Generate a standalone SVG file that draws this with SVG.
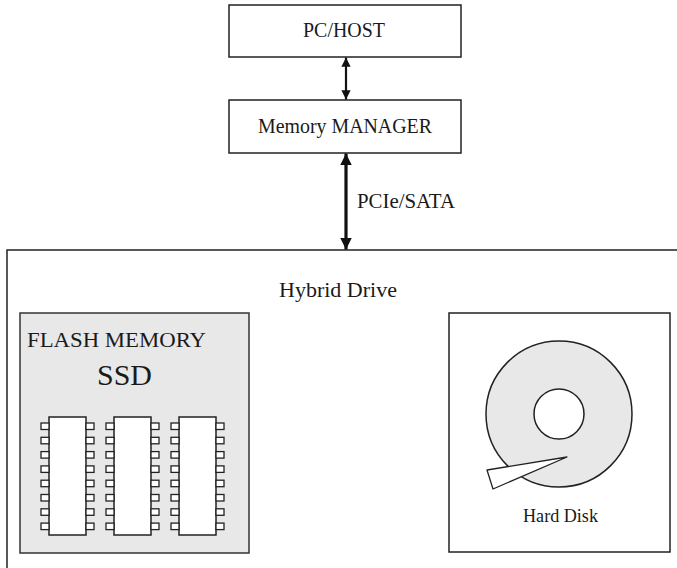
<svg xmlns="http://www.w3.org/2000/svg" width="677" height="568" viewBox="0 0 677 568">
  <defs>
    <style>
      .box { fill: #ffffff; stroke: #222222; stroke-width: 1.5; }
      .panel { fill: #e8e8e8; stroke: #333333; stroke-width: 1.5; }
      .chip { fill: #ffffff; stroke: #222222; stroke-width: 1.5; }
      .pin { fill: #ffffff; stroke: #222222; stroke-width: 1.3; }
      .lbl { fill: #1a1a1a; }
      .link { stroke: #111111; fill: none; }
    </style>
    <marker id="ah" viewBox="0 0 10 10" refX="10" refY="5" markerWidth="4.2" markerHeight="4.2" orient="auto-start-reverse" markerUnits="strokeWidth">
      <path d="M0,0 L10,5 L0,10 z" fill="#111111"/>
    </marker>
    <marker id="ahb" viewBox="0 0 10 10" refX="10" refY="5" markerWidth="3.6" markerHeight="3.6" orient="auto-start-reverse" markerUnits="strokeWidth">
      <path d="M0,0 L10,5 L0,10 z" fill="#111111"/>
    </marker>
    <!-- one chip: body with 8 pins per side -->
    <g id="chip">
      <rect class="chip" x="0" y="0" width="37" height="118"/>
      <g class="pin">
        <rect x="-8" y="6" width="8" height="6.5"/>
        <rect x="-8" y="20.3" width="8" height="6.5"/>
        <rect x="-8" y="34.6" width="8" height="6.5"/>
        <rect x="-8" y="48.9" width="8" height="6.5"/>
        <rect x="-8" y="63.2" width="8" height="6.5"/>
        <rect x="-8" y="77.5" width="8" height="6.5"/>
        <rect x="-8" y="91.8" width="8" height="6.5"/>
        <rect x="-8" y="106.1" width="8" height="6.5"/>
        <rect x="37" y="6" width="8" height="6.5"/>
        <rect x="37" y="20.3" width="8" height="6.5"/>
        <rect x="37" y="34.6" width="8" height="6.5"/>
        <rect x="37" y="48.9" width="8" height="6.5"/>
        <rect x="37" y="63.2" width="8" height="6.5"/>
        <rect x="37" y="77.5" width="8" height="6.5"/>
        <rect x="37" y="91.8" width="8" height="6.5"/>
        <rect x="37" y="106.1" width="8" height="6.5"/>
      </g>
    </g>
  </defs>

  <rect width="677" height="568" fill="#ffffff"/>

  <g font-family="'Liberation Serif', 'DejaVu Serif', serif" lengthAdjust="spacingAndGlyphs">
    <g id="hybrid-drive">
      <rect class="box" x="7" y="250" width="680" height="330"/>
      <text class="lbl" x="338" y="297" font-size="21" text-anchor="middle" textLength="118" lengthAdjust="spacingAndGlyphs">Hybrid Drive</text>
    </g>

    <g id="pc-host">
      <rect class="box" x="229" y="5" width="232" height="52"/>
      <text class="lbl" x="344" y="37" font-size="20" text-anchor="middle" textLength="82" lengthAdjust="spacingAndGlyphs">PC/HOST</text>
    </g>

    <g id="memory-manager">
      <rect class="box" x="229" y="100" width="232" height="53"/>
      <text class="lbl" x="345" y="133" font-size="20" text-anchor="middle" textLength="174" lengthAdjust="spacingAndGlyphs">Memory MANAGER</text>
    </g>

    <g id="flash-ssd">
      <rect class="panel" x="20" y="313" width="229" height="240"/>
      <text class="lbl" x="27" y="347" font-size="21" textLength="179" lengthAdjust="spacingAndGlyphs">FLASH MEMORY</text>
      <text class="lbl" x="124.5" y="385" font-size="29" text-anchor="middle" textLength="55" lengthAdjust="spacingAndGlyphs">SSD</text>
      <use href="#chip" x="49" y="417"/>
      <use href="#chip" x="114" y="417"/>
      <use href="#chip" x="179" y="417"/>
    </g>

    <g id="hard-disk">
      <rect class="box" x="449" y="313" width="221" height="239"/>
      <circle cx="559" cy="414" r="73" fill="#e8e8e8" stroke="#222222" stroke-width="1.5"/>
      <circle cx="559" cy="414" r="25" fill="#ffffff" stroke="#222222" stroke-width="1.5"/>
      <polygon points="567,457 487,470 493,489" fill="#ffffff" stroke="#222222" stroke-width="1.3" stroke-linejoin="round"/>
      <text class="lbl" x="560.5" y="522" font-size="18" text-anchor="middle" textLength="75" lengthAdjust="spacingAndGlyphs">Hard Disk</text>
    </g>

    <g id="connectors">
      <line class="link" x1="346" y1="57.5" x2="346" y2="99.5" stroke-width="2.2" marker-start="url(#ah)" marker-end="url(#ah)"/>
      <line class="link" x1="346" y1="153.5" x2="346" y2="249.5" stroke-width="3.2" marker-start="url(#ahb)" marker-end="url(#ahb)"/>
      <text class="lbl" x="357" y="208" font-size="20" textLength="98" lengthAdjust="spacingAndGlyphs">PCIe/SATA</text>
    </g>
  </g>
</svg>
